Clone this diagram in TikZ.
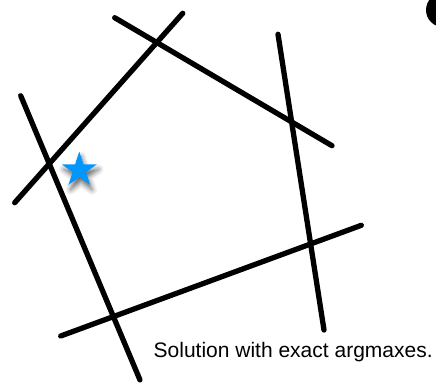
\documentclass[tikz,border=0pt]{standalone}
\usepackage{fontspec}
\setmainfont{Liberation Sans}
\usetikzlibrary{shapes.geometric,shadows.blur}
\definecolor{OptStar}{HTML}{0096FF}

\begin{document}
\begin{tikzpicture}[x=1pt,y=-1pt]
\path[use as bounding box] (0,0) rectangle (436,383);
\clip (0,0) rectangle (436,383);
\tikzset{cut/.style={line width=5.3pt,line cap=round}}
% constraint lines
\draw[cut] (20.7,95.7) -- (140.0,380.0);
\draw[cut] (14.7,202.7) -- (182.7,13.3);
\draw[cut] (114.7,17.7) -- (332.0,145.7);
\draw[cut] (278.0,34.3) -- (324.0,330.0);
\draw[cut] (60.7,336.0) -- (361.3,225.3);
% optimum
\node[star,star points=5,star point ratio=2.618,fill=OptStar,inner sep=0pt,minimum size=36.8pt,
  blur shadow={shadow xshift=2pt,shadow yshift=-5pt,shadow blur radius=5pt,shadow opacity=60}]
  (opt) at (79.3,170.0) {};
\fill[black] (443,10) circle (17);
\node[anchor=base west,inner sep=0pt,font=\fontsize{21}{24}\selectfont] (caption) at (153.5,357.0) {Solution with exact argmaxes.};
\end{tikzpicture}
\end{document}
